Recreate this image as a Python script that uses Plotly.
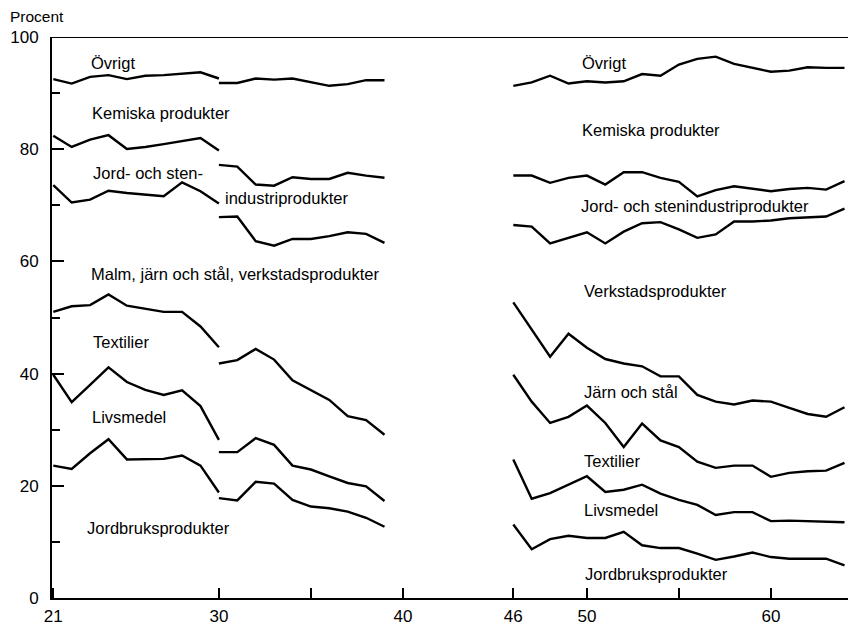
import plotly.graph_objects as go

# Years of the three periods (1930 appears in both of the first two series)
years1 = list(range(1921, 1931))
years2 = list(range(1930, 1940))
years3 = list(range(1946, 1965))

# Cumulative percent boundaries (line below each named group), period 1921-1930
ovrigt1 = [92.5, 91.7, 92.9, 93.2, 92.5, 93.1, 93.2, 93.5, 93.7, 92.6]
kemiska1 = [82.4, 80.4, 81.7, 82.5, 80.05, 80.4, 80.9, 81.5, 82.0, 79.75]
jord_sten1 = [73.6, 70.5, 71.0, 72.6, 72.2, 71.9, 71.6, 74.1, 72.5, 70.3]
malm_verk1 = [51.0, 52.0, 52.2, 54.1, 52.1, 51.6, 51.0, 51.0, 48.4, 44.7]
textilier1 = [39.8, 34.9, 38.0, 41.1, 38.5, 37.1, 36.2, 37.0, 34.2, 28.2]
livsmedel1 = [23.6, 23.0, 25.8, 28.3, 24.7, 24.7, 24.8, 25.4, 23.6, 18.8]

# Period 1930-1939
ovrigt2 = [91.8, 91.8, 92.6, 92.4, 92.6, 91.9, 91.3, 91.6, 92.3, 92.3]
kemiska2 = [77.2, 76.9, 73.7, 73.5, 75.0, 74.7, 74.7, 75.8, 75.3, 74.9]
jord_sten2 = [67.9, 68.0, 63.6, 62.8, 64.0, 64.0, 64.5, 65.2, 64.9, 63.3]
malm_verk2 = [41.8, 42.4, 44.4, 42.5, 38.8, 37.0, 35.3, 32.4, 31.7, 29.1]
textilier2 = [26.0, 26.0, 28.5, 27.3, 23.6, 22.9, 21.7, 20.5, 19.9, 17.3]
livsmedel2 = [17.8, 17.4, 20.7, 20.4, 17.5, 16.3, 16.0, 15.4, 14.3, 12.7]

# Period 1946-1964
ovrigt3 = [91.3, 91.9, 93.1, 91.7, 92.1, 91.9, 92.1, 93.4, 93.1, 95.1, 96.1, 96.5, 95.2, 94.5, 93.8, 94.0, 94.6, 94.5, 94.5]
kemiska3 = [75.3, 75.3, 74.0, 74.9, 75.3, 73.7, 75.9, 75.9, 74.9, 74.2, 71.6, 72.7, 73.4, 72.9, 72.5, 72.9, 73.1, 72.8, 74.3]
jord_sten3 = [66.5, 66.2, 63.2, 64.2, 65.2, 63.2, 65.3, 66.8, 67.0, 65.7, 64.2, 64.8, 67.1, 67.1, 67.3, 67.7, 67.9, 68.0, 69.4]
verkstad3 = [52.7, 47.8, 43.0, 47.1, 44.6, 42.6, 41.8, 41.3, 39.5, 39.5, 36.2, 35.0, 34.5, 35.2, 35.0, 33.9, 32.8, 32.3, 34.0]
jarn_stal3 = [39.8, 35.0, 31.2, 32.3, 34.3, 31.2, 26.9, 31.1, 28.1, 26.9, 24.3, 23.2, 23.6, 23.6, 21.6, 22.3, 22.6, 22.7, 24.1]
textilier3 = [24.7, 17.7, 18.7, 20.2, 21.7, 18.9, 19.3, 20.2, 18.6, 17.5, 16.6, 14.8, 15.3, 15.3, 13.7, 13.8, 13.7, 13.7, 13.5]
livsmedel3 = [13.1, 8.7, 10.5, 11.1, 10.7, 10.7, 11.8, 9.4, 8.9, 8.9, 7.9, 6.8, 7.4, 8.1, 7.3, 7.0, 7.0, 7.0, 5.8]

# Tick labels
x_tickvals = [1921, 1930, 1935, 1940, 1946, 1950, 1955, 1960]
x_ticktext = ["21", "30", "", "40", "46", "50", "", "60"]
y_tickvals = [0, 20, 40, 60, 80, 100]
y_ticktext = ["0", "20", "40", "60", "80", "100"]
y_minor = [10, 30, 50, 70, 90]

# Labels: (text, year, percent)
labels = [
    ("Övrigt", 1922.95, 95.4),
    ("Kemiska produkter", 1923.0, 86.5),
    ("Jord- och sten-", 1923.05, 75.8),
    ("industriprodukter", 1930.2, 71.3),
    ("Malm, järn och stål, verkstadsprodukter", 1922.95, 57.8),
    ("Textilier", 1923.05, 45.7),
    ("Livsmedel", 1923.0, 32.2),
    ("Jordbruksprodukter", 1922.7, 12.5),
    ("Övrigt", 1949.65, 95.4),
    ("Kemiska produkter", 1949.65, 83.5),
    ("Jord- och stenindustriprodukter", 1949.55, 69.9),
    ("Verkstadsprodukter", 1949.75, 54.7),
    ("Järn och stål", 1949.75, 36.8),
    ("Textilier", 1949.75, 24.5),
    ("Livsmedel", 1949.75, 15.6),
    ("Jordbruksprodukter", 1949.8, 4.2),
]

FONT = "Liberation Sans, Arial, Helvetica, sans-serif"

fig = go.Figure()
segments = [
    (years1, [ovrigt1, kemiska1, jord_sten1, malm_verk1, textilier1, livsmedel1]),
    (years2, [ovrigt2, kemiska2, jord_sten2, malm_verk2, textilier2, livsmedel2]),
    (years3, [ovrigt3, kemiska3, jord_sten3, verkstad3, jarn_stal3, textilier3, livsmedel3]),
]
for yrs, series in segments:
    for s in series:
        fig.add_trace(go.Scatter(x=yrs, y=s, mode="lines",
                                 line=dict(color="black", width=2.4),
                                 showlegend=False, hoverinfo="skip"))

for text, x, y in labels:
    fig.add_annotation(x=x, y=y, text=text, showarrow=False, xanchor="left",
                       yanchor="middle", font=dict(family=FONT, size=16.5, color="black"))

fig.add_annotation(xref="paper", yref="paper", x=-0.0553, y=1.036, text="Procent",
                   showarrow=False, xanchor="left", yanchor="middle",
                   font=dict(family=FONT, size=15.5, color="black"))

# top frame line at 100 %
fig.add_shape(type="line", xref="paper", yref="y", x0=0, x1=1, y0=100, y1=100,
              line=dict(color="black", width=2))

fig.update_layout(
    width=848, height=626,
    margin=dict(l=52, r=0, t=37, b=28),
    paper_bgcolor="white", plot_bgcolor="white",
    font=dict(family=FONT, size=17, color="black"),
    xaxis=dict(range=[1920.93, 1964.19], showgrid=False, zeroline=False,
               showline=True, linecolor="black", linewidth=2,
               tickmode="array", tickvals=x_tickvals, ticktext=x_ticktext,
               ticks="inside", ticklen=10, tickwidth=1.5, tickcolor="black",
               ticklabelstandoff=2),
    yaxis=dict(range=[0, 100], showgrid=False, zeroline=False,
               showline=True, linecolor="black", linewidth=2,
               tickmode="array", tickvals=y_tickvals, ticktext=y_ticktext,
               ticks="inside", ticklen=12, tickwidth=2, tickcolor="black",
               ticklabelstandoff=8,
               minor=dict(tickmode="array", tickvals=y_minor, ticks="inside",
                          ticklen=8, tickwidth=2, tickcolor="black", showgrid=False)),
)

fig.write_html("out.html")
